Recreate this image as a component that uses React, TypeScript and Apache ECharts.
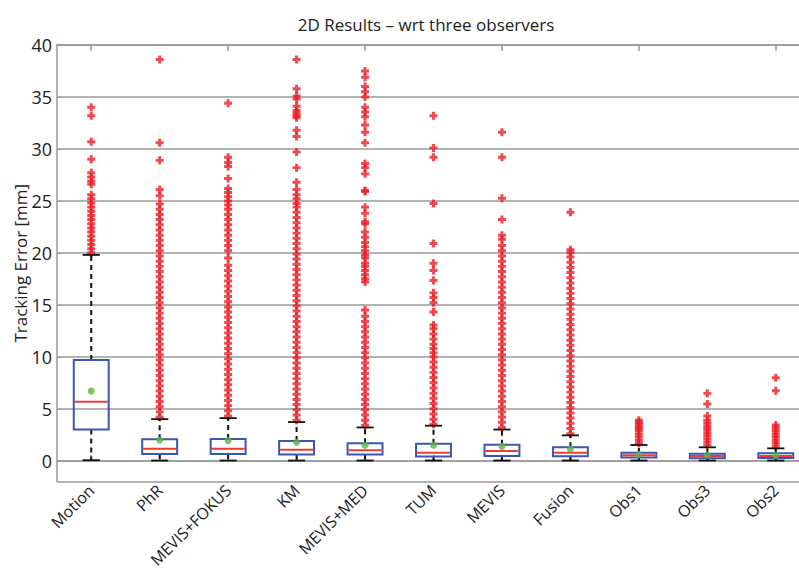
import React, { useEffect, useRef } from "react";
import * as echarts from "echarts";

const categories = ["Motion", "PhR", "MEVIS+FOKUS", "KM", "MEVIS+MED", "TUM", "MEVIS", "Fusion", "Obs1", "Obs3", "Obs2"];

// [lower whisker, Q1, median, Q3, upper whisker]
const boxStats = [
  [0.05, 3.0, 5.67, 9.68, 19.8],
  [0.02, 0.65, 1.15, 2.06, 4.0],
  [0.02, 0.65, 1.15, 2.09, 4.1],
  [0.02, 0.6, 1.06, 1.89, 3.72],
  [0.02, 0.6, 1.0, 1.67, 3.2],
  [0.02, 0.4, 0.77, 1.64, 3.37],
  [0.02, 0.45, 0.93, 1.54, 3.0],
  [0.02, 0.42, 0.77, 1.29, 2.44],
  [0.02, 0.3, 0.52, 0.77, 1.51],
  [0.02, 0.23, 0.45, 0.67, 1.29],
  [0.02, 0.25, 0.45, 0.71, 1.19],
];

const means = [6.7, 2.0, 1.93, 1.77, 1.48, 1.48, 1.38, 1.12, 0.61, 0.55, 0.5];

const outMotion = [20.0, 20.4, 20.8, 21.2, 21.6, 22.0, 22.4, 22.8, 23.2, 23.6, 24.0, 24.4, 24.8, 25.2, 25.6, 26.6, 26.9, 27.3, 27.7, 29.0, 30.7, 33.2, 34.0];
const outPhR = [4.2, 4.7, 5.2, 5.7, 6.2, 6.7, 7.2, 7.7, 8.2, 8.7, 9.2, 9.7, 10.2, 10.7, 11.2, 11.7, 12.2, 12.7, 13.2, 13.7, 14.2, 14.7, 15.2, 15.7, 16.2, 16.7, 17.2, 17.7, 18.2, 18.7, 19.2, 19.7, 20.2, 20.7, 21.2, 21.7, 22.2, 22.7, 23.2, 23.7, 24.2, 24.7, 25.5, 26.1, 28.9, 30.6, 38.6];
const outMevisFokus = [4.3, 4.8, 5.3, 5.8, 6.3, 6.8, 7.3, 7.8, 8.3, 8.8, 9.3, 9.8, 10.3, 10.8, 11.3, 11.8, 12.3, 12.8, 13.3, 13.8, 14.3, 14.8, 15.3, 15.8, 16.3, 16.8, 17.3, 17.8, 18.3, 18.8, 19.5, 20.2, 20.7, 21.2, 21.7, 22.2, 22.7, 23.2, 23.7, 24.2, 24.6, 25.0, 25.4, 25.8, 26.2, 27.15, 28.3, 28.7, 29.2, 34.4];
const outKM = [3.9, 4.4, 4.9, 5.4, 5.9, 6.4, 6.9, 7.4, 7.9, 8.4, 8.9, 9.4, 9.9, 10.4, 10.9, 11.4, 11.9, 12.4, 12.9, 13.4, 13.9, 14.4, 14.9, 15.4, 15.9, 16.4, 16.9, 17.4, 17.9, 18.4, 18.9, 19.4, 19.9, 20.4, 20.9, 21.4, 21.9, 22.4, 22.9, 23.4, 23.9, 24.4, 24.75, 25.2, 25.6, 26.1, 26.8, 28.2, 29.7, 31.2, 31.8, 33.0, 33.2, 33.4, 33.7, 34.1, 34.8, 35.1, 35.8, 38.6];
const outMevisMed = [3.4, 3.9, 4.4, 4.9, 5.4, 5.9, 6.4, 6.9, 7.4, 7.9, 8.4, 8.9, 9.4, 9.9, 10.4, 10.9, 11.4, 11.9, 12.4, 12.9, 13.4, 13.9, 14.5, 17.2, 17.5, 17.9, 18.3, 18.7, 19.0, 19.5, 19.8, 20.2, 20.6, 21.0, 21.5, 22.0, 22.8, 23.0, 23.8, 24.4, 25.9, 26.0, 27.6, 28.2, 28.6, 30.6, 31.6, 32.3, 33.1, 33.55, 34.0, 35.0, 35.5, 36.0, 36.9, 37.5];
const outTUM = [3.5, 4.0, 4.5, 5.0, 5.5, 6.0, 6.5, 7.0, 7.5, 8.0, 8.5, 9.0, 9.5, 10.0, 10.4, 10.8, 11.2, 11.7, 12.2, 12.7, 13.05, 14.3, 15.2, 15.7, 16.15, 17.35, 18.3, 19.0, 20.9, 24.75, 29.2, 30.1, 33.2];
const outMEVIS = [3.2, 3.7, 4.2, 4.7, 5.2, 5.7, 6.2, 6.7, 7.2, 7.7, 8.2, 8.7, 9.2, 9.7, 10.2, 10.7, 11.2, 11.7, 12.2, 12.7, 13.2, 13.7, 14.2, 14.7, 15.2, 15.7, 16.2, 16.7, 17.2, 17.7, 18.2, 18.7, 19.2, 19.7, 20.2, 20.7, 21.3, 21.7, 23.2, 25.26, 29.2, 31.6];
const outFusion = [2.6, 3.1, 3.6, 4.1, 4.6, 5.1, 5.6, 6.1, 6.6, 7.1, 7.6, 8.1, 8.6, 9.1, 9.6, 10.1, 10.6, 11.1, 11.6, 12.1, 12.6, 13.1, 13.6, 14.1, 14.6, 15.1, 15.6, 16.1, 16.6, 17.1, 17.6, 18.1, 18.6, 19.1, 19.6, 20.0, 20.3, 23.9];
const outObs1 = [1.7, 2.0, 2.3, 2.6, 2.9, 3.1, 3.3, 3.5, 3.7, 3.9];
const outObs3 = [1.5, 1.8, 2.1, 2.4, 2.7, 3.0, 3.3, 3.6, 3.9, 4.3, 5.45, 6.48];
const outObs2 = [1.4, 1.7, 2.0, 2.3, 2.6, 2.9, 3.2, 3.43, 6.73, 7.98];

const outliers = [outMotion, outPhR, outMevisFokus, outKM, outMevisMed, outTUM, outMEVIS, outFusion, outObs1, outObs3, outObs2];

const yTitle = "Tracking Error [mm]";
const chartTitle = "2D Results – wrt three observers";

const FONT = "'Open Sans', 'Noto Sans', sans-serif";
const PLUS = "path://M-1.3,-3.5H1.3V-1.3H3.5V1.3H1.3V3.5H-1.3V1.3H-3.5V-1.3H-1.3Z";

export default function App() {
  const ref = useRef<HTMLDivElement>(null);
  useEffect(() => {
    if (!ref.current) return;
    const chart = echarts.init(ref.current, undefined, { renderer: "svg" });

    const boxData = boxStats.map((s, i) => [i, ...s]);
    const meanData = means.map((m, i) => [i, m]);
    const outData: number[][] = [];
    outliers.forEach((arr, i) => arr.forEach((v) => outData.push([i, v])));

    const axisGray = "#9a9a9a";

    chart.setOption({
      animation: false,
      backgroundColor: "#fff",
      title: {
        text: chartTitle,
        left: 421,
        textAlign: "center",
        top: 11,
        textStyle: { fontFamily: FONT, fontSize: 17, fontWeight: "normal", color: "#222" },
      },
      grid: { left: 57, right: -11, top: 45, bottom: 92.5, containLabel: false, outerBoundsMode: "none" },
      xAxis: [
        {
          type: "category",
          data: categories,
          position: "bottom",
          boundaryGap: true,
          axisLine: { show: true, lineStyle: { color: axisGray, width: 1.5 } },
          axisTick: { show: true, inside: true, length: 6, alignWithLabel: true, lineStyle: { color: axisGray, width: 1.5 } },
          axisLabel: { rotate: 45, margin: 6, fontFamily: FONT, fontSize: 16, color: "#222", interval: 0, hideOverlap: false },
          splitLine: { show: false },
        },
        {
          type: "category",
          data: categories,
          position: "top",
          boundaryGap: true,
          axisLine: { show: true, lineStyle: { color: axisGray, width: 1.5 } },
          axisTick: { show: true, inside: true, length: 6, alignWithLabel: true, lineStyle: { color: axisGray, width: 1.5 } },
          axisLabel: { show: false },
        },
      ],
      yAxis: {
        type: "value",
        min: -2,
        max: 40,
        splitNumber: 8,
        minInterval: 5,
        maxInterval: 5,
        name: yTitle,
        nameLocation: "middle",
        nameGap: 28,
        nameMoveOverlap: false,
        nameTextStyle: { fontFamily: FONT, fontSize: 17, color: "#222" },
        axisLine: { show: true, lineStyle: { color: axisGray, width: 1.5 } },
        axisTick: { show: true, inside: true, length: 6, lineStyle: { color: axisGray } },
        axisLabel: { showMinLabel: false, margin: 5, fontFamily: FONT, fontSize: 18, color: "#222" },
        splitLine: { show: true, lineStyle: { color: axisGray, width: 1.5 } },
      },
      series: [
        {
          type: "scatter",
          data: outData,
          symbol: PLUS,
          symbolSize: 8,
          itemStyle: { color: "#ec1c24" },
          z: 2,
        },
        {
          type: "custom",
          data: boxData,
          encode: { x: 0, y: [1, 2, 3, 4, 5] },
          z: 3,
          renderItem: (params: any, api: any) => {
            const x = api.value(0);
            const lo = api.coord([x, api.value(1)]);
            const q1 = api.coord([x, api.value(2)]);
            const med = api.coord([x, api.value(3)]);
            const q3 = api.coord([x, api.value(4)]);
            const hi = api.coord([x, api.value(5)]);
            const band = api.size([1, 0])[0];
            const bw = band * 0.51;
            const cw = band * 0.25;
            const cx = lo[0];
            const wStyle = { stroke: "#111", lineWidth: 2, lineDash: [5, 4] };
            const cStyle = { stroke: "#111", lineWidth: 1.8 };
            return {
              type: "group",
              children: [
                { type: "line", shape: { x1: cx, y1: q3[1], x2: cx, y2: hi[1] }, style: wStyle },
                { type: "line", shape: { x1: cx, y1: q1[1], x2: cx, y2: lo[1] }, style: wStyle },
                { type: "line", shape: { x1: cx - cw / 2, y1: hi[1], x2: cx + cw / 2, y2: hi[1] }, style: cStyle },
                { type: "line", shape: { x1: cx - cw / 2, y1: lo[1], x2: cx + cw / 2, y2: lo[1] }, style: cStyle },
                {
                  type: "rect",
                  shape: { x: cx - bw / 2, y: q3[1], width: bw, height: q1[1] - q3[1] },
                  style: { fill: "rgba(255,255,255,0)", stroke: "#3b55b5", lineWidth: 2 },
                },
                {
                  type: "line",
                  shape: { x1: cx - bw / 2 + 1, y1: med[1], x2: cx + bw / 2 - 1, y2: med[1] },
                  style: { stroke: "#ef3a3a", lineWidth: 2 },
                },
              ],
            };
          },
        },
        {
          type: "scatter",
          data: meanData,
          symbol: "circle",
          symbolSize: 7,
          itemStyle: { color: "#5ab53c" },
          z: 4,
        },
      ],
    });
    return () => chart.dispose();
  }, []);
  return <div ref={ref} style={{ position: "absolute", left: 0, top: 0, width: 799, height: 574 }} />;
}
